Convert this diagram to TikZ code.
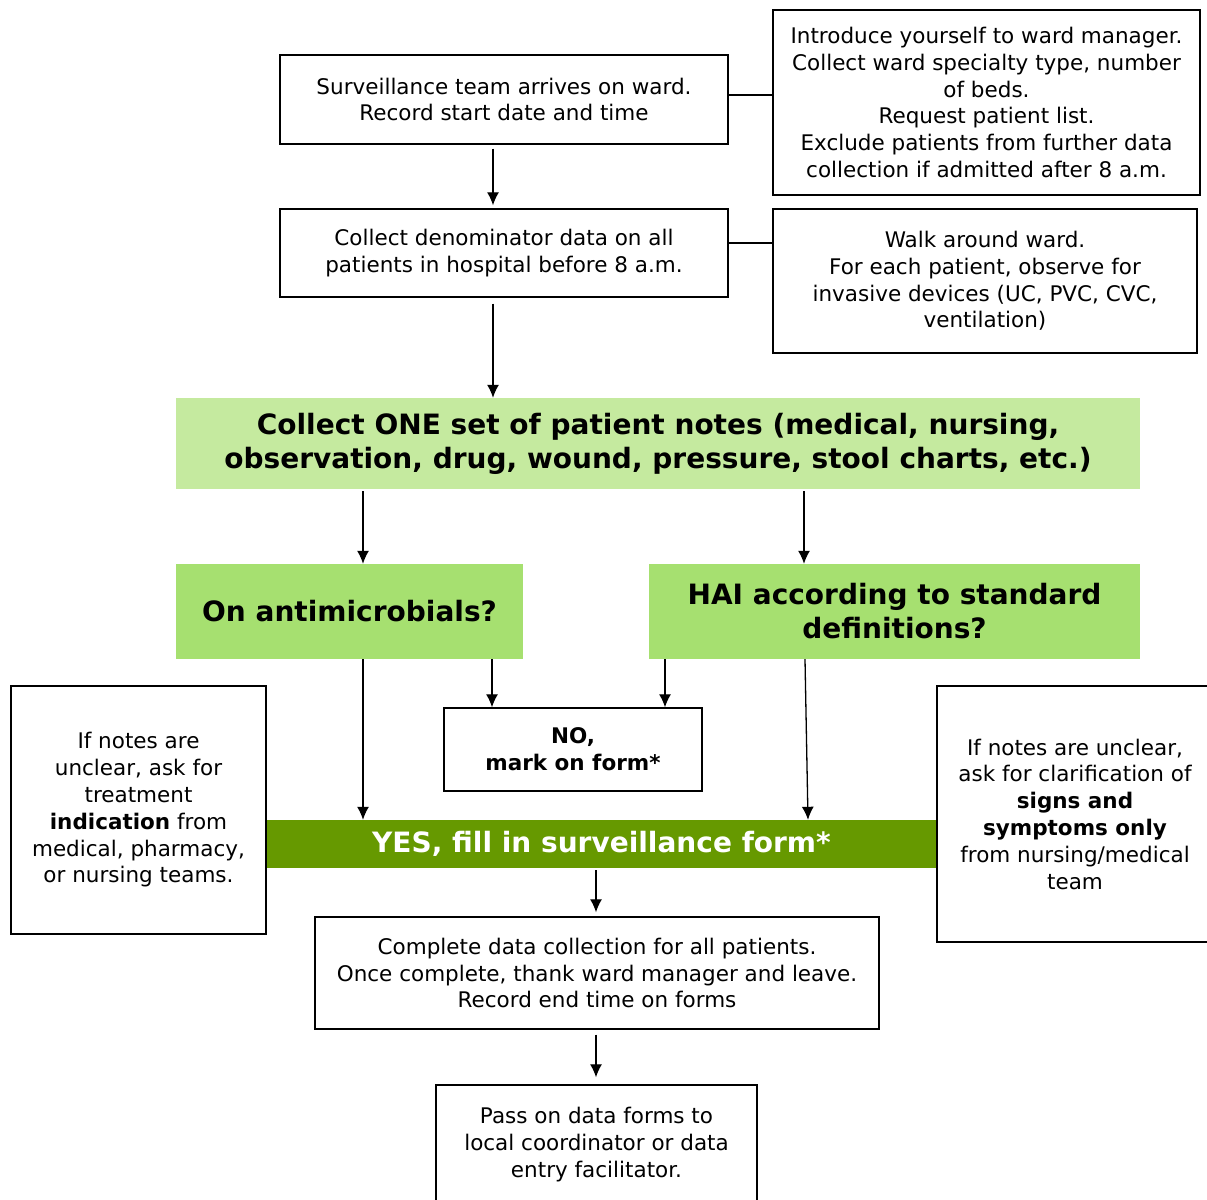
\documentclass[tikz,border=0pt]{standalone}
\usepackage{fontspec}
\setmainfont{DejaVu Sans}
\usetikzlibrary{arrows.meta}
\definecolor{lightg}{HTML}{C5EA9F}
\definecolor{midg}{HTML}{A6E070}
\definecolor{darkg}{HTML}{669900}
\tikzset{
  box/.style={draw=black, line width=1.4pt, fill=white, align=center, inner sep=0pt,
    font=\fontsize{21.5}{26.8}\selectfont},
  gbox/.style={draw=none, align=center, inner sep=0pt,
    font=\bfseries\fontsize{28}{34}\selectfont},
  arr/.style={line width=1.3pt, -{Latex[length=13pt,width=12pt]}},
  ln/.style={line width=1.3pt}
}
\begin{document}
\begin{tikzpicture}[x=1pt,y=-1pt]
\useasboundingbox (0,0) rectangle (1207,1199);
\fill[white] (0,0) rectangle (1207,1199);

\node[box, minimum width=448pt, minimum height=89pt] (A) at (504,99.5)
  {Surveillance team arrives on ward.\\Record start date and time};
\node[box, minimum width=427pt, minimum height=185pt] (B) at (986.5,102.5)
  {Introduce yourself to ward manager.\\Collect ward specialty type, number\\of beds.\\Request patient list.\\Exclude patients from further data\\collection if admitted after 8 a.m.};
\node[box, minimum width=448pt, minimum height=88pt] (C) at (504,253)
  {Collect denominator data on all\\patients in hospital before 8 a.m.};
\node[box, minimum width=424pt, minimum height=144pt] (D) at (985,281)
  {Walk around ward.\\For each patient, observe for\\invasive devices (UC, PVC, CVC,\\ventilation)};

\node[gbox, fill=lightg, minimum width=964pt, minimum height=91pt] (E) at (658,443.5)
  {Collect ONE set of patient notes (medical, nursing,\\observation, drug, wound, pressure, stool charts, etc.)};
\node[gbox, fill=midg, minimum width=347pt, minimum height=95pt] (F) at (349.5,611.5)
  {On antimicrobials?};
\node[gbox, fill=midg, minimum width=491pt, minimum height=95pt] (G) at (894.5,611.5)
  {HAI according to standard\\definitions?};

\node[box, font=\bfseries\fontsize{21.5}{26.8}\selectfont, minimum width=258pt, minimum height=83pt] (H) at (573,749.5)
  {NO,\\mark on form*};

\node[gbox, fill=darkg, text=white, minimum width=671pt, minimum height=48pt] (Y) at (601.5,844)
  {YES, fill in surveillance form*};

\node[box, minimum width=255pt, minimum height=248pt] (I) at (138.5,810)
  {If notes are\\unclear, ask for\\treatment\\\textbf{indication} from\\medical, pharmacy,\\or nursing teams.};
\node[box, minimum width=276pt, minimum height=256pt] (J) at (1075,814)
  {If notes are unclear,\\ask for clarification of\\\textbf{signs and}\\\textbf{symptoms only}\\from nursing/medical\\team};

\node[box, minimum width=564pt, minimum height=112pt] (K) at (597,973)
  {Complete data collection for all patients.\\Once complete, thank ward manager and leave.\\Record end time on forms};
\node[box, minimum width=321pt, minimum height=119pt] (L) at (596.5,1144.5)
  {Pass on data forms to\\local coordinator or data\\entry facilitator.};

% connectors
\draw[ln] (A.east |- 0,95) -- (B.west |- 0,95);
\draw[ln] (C.east |- 0,243) -- (D.west |- 0,243);
\draw[arr] (A.south -| 493,0) ++(0,4) -- ([yshift=3pt]C.north -| 493,0);
\draw[arr] (C.south -| 493,0) ++(0,6) -- (E.north -| 493,0);
\draw[arr] (E.south -| 363,0) ++(0,2) -- (F.north -| 363,0);
\draw[arr] (E.south -| 804,0) ++(0,2) -- (G.north -| 804,0);
\draw[arr] (F.south -| 492,0) -- (H.north -| 492,0);
\draw[arr] (G.south -| 665,0) -- (H.north -| 665,0);
\draw[arr] (F.south -| 363,0) -- (Y.north -| 363,0);
\draw[arr] (G.south -| 805,0) -- (Y.north -| 808,0);
\draw[arr] (Y.south -| 596,0) ++(0,2) -- ([yshift=4pt]K.north -| 596,0);
\draw[arr] (K.south -| 596,0) ++(0,5) -- ([yshift=7pt]L.north -| 596,0);
\end{tikzpicture}
\end{document}
